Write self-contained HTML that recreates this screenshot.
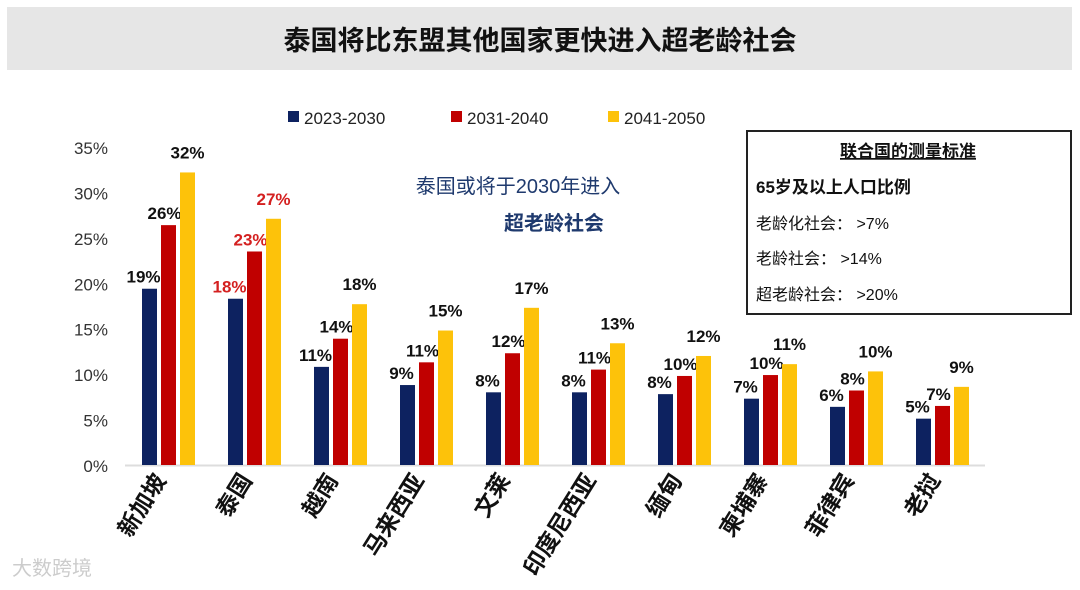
<!DOCTYPE html>
<html><head><meta charset="utf-8"><style>
body{margin:0;width:1080px;height:585px;background:#fff;overflow:hidden;font-family:"Liberation Sans","Noto Sans CJK SC",sans-serif;}
svg text{font-family:"Liberation Sans","Noto Sans CJK SC",sans-serif;}
</style></head><body>
<svg id="c" width="1080" height="585">
<rect x="7" y="7" width="1065" height="63" fill="#e6e6e6"/>
<text x="540" y="50" text-anchor="middle" font-size="27" font-weight="bold" fill="#111">泰国将比东盟其他国家更快进入超老龄社会</text>
<g>
<rect x="288" y="111" width="11" height="11" fill="#0d2260"/><text x="304" y="124" font-size="17" fill="#222">2023-2030</text>
<rect x="451" y="111" width="11" height="11" fill="#c00000"/><text x="467" y="124" font-size="17" fill="#222">2031-2040</text>
<rect x="608" y="111" width="11" height="11" fill="#fdc20a"/><text x="624" y="124" font-size="17" fill="#222">2041-2050</text>
</g>
<text x="518" y="193" text-anchor="middle" font-size="20" fill="#1f3a6e">泰国或将于2030年进入</text>
<text x="554" y="230" text-anchor="middle" font-size="20" font-weight="bold" fill="#1f3a6e">超老龄社会</text>
<g>
<rect x="747" y="131" width="324" height="183" fill="#fff" stroke="#222" stroke-width="2"/>
<text x="908" y="157" text-anchor="middle" font-size="17" font-weight="bold" fill="#111" text-decoration="underline">联合国的测量标准</text>
<text x="756" y="193" font-size="17" font-weight="bold" fill="#111">65岁及以上人口比例</text>
<text x="756" y="229" font-size="16" fill="#111">老龄化社会：  &gt;7%</text>
<text x="756" y="264" font-size="16" fill="#111">老龄社会：  &gt;14%</text>
<text x="756" y="300" font-size="16" fill="#111">超老龄社会：  &gt;20%</text>
</g>
<g id="plot"></g>
<text x="12" y="575" font-size="20" fill="#ccc">大数跨境</text>
</svg>
<script>
const categories=["新加坡","泰国","越南","马来西亚","文莱","印度尼西亚","缅甸","柬埔寨","菲律宾","老挝"];
const s2030=[19.4,18.3,10.8,8.8,8.0,8.0,7.8,7.3,6.4,5.1];
const s2040=[26.4,23.5,13.9,11.3,12.3,10.5,9.8,9.9,8.2,6.5];
const s2050=[32.2,27.1,17.7,14.8,17.3,13.4,12.0,11.1,10.3,8.6];
const lab2030=["19%","18%","11%","9%","8%","8%","8%","7%","6%","5%"];
const lab2040=["26%","23%","14%","11%","12%","11%","10%","10%","8%","7%"];
const lab2050=["32%","27%","18%","15%","17%","13%","12%","11%","10%","9%"];
const ticks=[0,5,10,15,20,25,30,35];
const NS="http://www.w3.org/2000/svg";
const g=document.getElementById('plot');
const y=v=>465-v*(318/35);
const x0=125,gw=86;
function el(t,a,txt){const e=document.createElementNS(NS,t);for(const k in a)e.setAttribute(k,a[k]);if(txt!==undefined)e.textContent=txt;g.appendChild(e);return e;}
ticks.forEach(t=>{const e=el('text',{x:108,y:y(t)+7,'text-anchor':'end','font-size':17,fill:'#333'},t+'%');

});
const ax=el('line',{x1:125,x2:985,y1:465.5,y2:465.5,stroke:'#ddd','stroke-width':2});


const series=[[s2030,'#0d2260',lab2030],[s2040,'#c00000',lab2040],[s2050,'#fdc20a',lab2050]];
categories.forEach((c,i)=>{
 series.forEach((s,j)=>{
  const bx=x0+i*gw+17+j*19,v=s[0][i];
  const r=el('rect',{x:bx,y:y(v),width:15,height:465-y(v),fill:s[1]});
  
  
  const red=(i===1);
  const t=el('text',{x:bx+7.5+(j===0?-6:(j===1?-4:0)),y:y(v)-(j===2?14:6),'text-anchor':'middle','font-size':17,'font-weight':'bold',fill:red?'#d42020':'#111'},s[2][i]);
  
  
 });
 const cx=x0+i*gw+42;
 const t=el('text',{x:cx,y:480,'text-anchor':'end','font-size':23,'font-weight':'bold',fill:'#111',transform:'rotate(-58 '+cx+' 480)'},c);
 
 
});
</script>
</body></html>
